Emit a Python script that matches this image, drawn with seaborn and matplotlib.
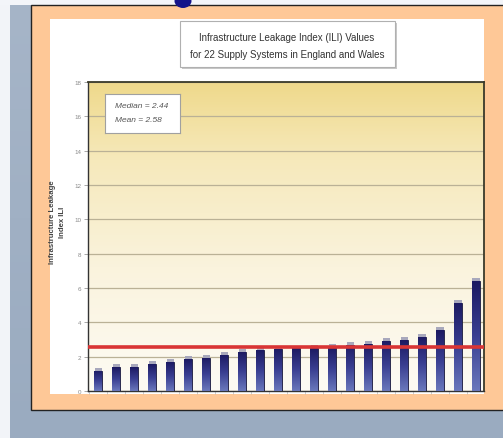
import numpy as np
import pandas as pd
import matplotlib
matplotlib.use("Agg")
import matplotlib.pyplot as plt
from matplotlib.patches import Rectangle, Ellipse
from matplotlib.colors import LinearSegmentedColormap
import seaborn as sns

# ILI values for the 22 supply systems, sorted ascending
systems = [f"S{i}" for i in range(1, 23)]
ili_values = [1.17, 1.38, 1.38, 1.57, 1.67, 1.84, 1.94, 2.10, 2.27, 2.37, 2.45,
              2.48, 2.50, 2.55, 2.68, 2.72, 2.93, 2.95, 3.15, 3.53, 5.13, 6.39]
median_ili = 2.44
mean_ili = 2.58
y_ticks = list(range(0, 19, 2))

title_lines = ["Infrastructure Leakage Index (ILI) Values",
               "for 22 Supply Systems in England and Wales"]
stats_lines = [f"Median = {median_ili:.2f}", f"Mean = {mean_ili:.2f}"]
y_label = "Infrastructure Leakage\nIndex ILI"

df = pd.DataFrame({"system": systems, "ili": ili_values})

sns.set_theme(style="white")
narrow = ["Liberation Sans Narrow", "Liberation Sans", "DejaVu Sans"]
plt.rcParams["font.family"] = ["Liberation Sans", "DejaVu Sans"]

W, H = 503, 439
fig = plt.figure(figsize=(W / 100, H / 100), dpi=100)


def fx(px):
    return px / W


def fy(py):
    return 1 - py / H


# slide background: grey-blue with a pale margin
bg = fig.add_axes([0, 0, 1, 1], zorder=-10)
bg.set_axis_off()
grad = np.linspace(0, 1, 256)[:, None] * np.ones((1, 256))
bg_cmap = LinearSegmentedColormap.from_list("bgc", ["#a6b5c8", "#9aabc0"])
bg.imshow(grad, cmap=bg_cmap, extent=[0, 1, 0, 1], aspect="auto")
bg.add_patch(Rectangle((0, 0), fx(10), 1, color="#f2f4f8", lw=0))
bg.add_patch(Rectangle((0, fy(6)), 1, 1 - fy(6), color="#f3f5f9", lw=0))
# peach frame
bg.add_patch(Rectangle((fx(31), fy(411)), 1.0, fy(6) - fy(411),
                       facecolor="#fec897", edgecolor="#222222", lw=1.0))
# tail of the slide heading poking in at the top edge
bg.add_patch(Ellipse((fx(183), fy(2)), fx(17), fy(0) - fy(14),
                     facecolor="#14148a", edgecolor="none", zorder=3))
# white panel
bg.add_patch(Rectangle((fx(50), fy(395)), fx(434), fy(20) - fy(395),
                       facecolor="white", edgecolor="none"))
bg.set_xlim(0, 1)
bg.set_ylim(0, 1)

# chart axes
ax = fig.add_axes([fx(88), fy(392), fx(484 - 88), fy(83) - fy(392)])
ax.set_facecolor("none")

# yellow-to-cream gradient behind the plot
pg = np.linspace(0, 1, 256)[:, None] * np.ones((1, 8))
plot_cmap = LinearSegmentedColormap.from_list(
    "pc", [(0, "#fdfbf4"), (0.4, "#faf3dd"), (0.75, "#f6e9bb"), (1, "#efd98b")])
ax.imshow(pg, cmap=plot_cmap, extent=[-0.575, 21.46, 0, 18], aspect="auto",
          origin="lower", zorder=0)

sns.barplot(data=df, x="system", y="ili", color="#2a2a7a", width=0.43,
            ax=ax, zorder=3, edgecolor="#1a1a40", linewidth=0.6)

bar_cmap = LinearSegmentedColormap.from_list("bar", ["#6a78bc", "#3a3f92", "#1c1a62"])
bgrad = np.linspace(0, 1, 128)[:, None] * np.ones((1, 4))
for patch in ax.patches:
    x0 = patch.get_x()
    w = patch.get_width()
    h = patch.get_height()
    im = ax.imshow(bgrad, cmap=bar_cmap, extent=[x0, x0 + w, 0, h],
                   aspect="auto", origin="lower", zorder=3.5)
    im.set_clip_path(patch)
    # lighter top face of each column
    ax.add_patch(Rectangle((x0 + 0.03, h), w - 0.02, 0.17, facecolor="#a8a8bc",
                           edgecolor="none", zorder=3.6))

ax.axhline(mean_ili, color="#d93535", lw=2.6, zorder=5)

ax.set_xlim(-0.575, 21.46)
ax.set_ylim(0, 18)
ax.set_yticks(y_ticks)
ax.set_yticklabels([str(t) for t in y_ticks], fontsize=4.5, color="#8a8a8a")
ax.set_xticks(np.arange(-0.5, 21.5, 1))
ax.set_xticklabels([])
ax.tick_params(axis="y", length=3, width=0.6, color="#999999", pad=2, left=True)
ax.tick_params(axis="x", length=2, width=0.5, color="#bbbbbb", bottom=True)
ax.yaxis.grid(True, color="#bab196", lw=0.9, zorder=1)
ax.set_axisbelow(True)
for side in ["left", "bottom"]:
    ax.spines[side].set_color("#333333")
    ax.spines[side].set_linewidth(1.0)
for side in ["top", "right"]:
    ax.spines[side].set_color("#3a3a2a")
    ax.spines[side].set_linewidth(1.3)
    ax.spines[side].set_visible(True)
ax.set_xlabel("")
ax.set_ylabel("")

fig.text(fx(57), fy(222), y_label, rotation=90, ha="center", va="center",
         fontsize=5.6, fontweight="bold", color="#444444", linespacing=1.6,
         family=narrow)

# title box with a soft shadow
bg.add_patch(Rectangle((fx(182), fy(70)), fx(215), fy(22) - fy(68),
                       facecolor="#c8c8c8", edgecolor="none", zorder=1))
bg.add_patch(Rectangle((fx(180), fy(68)), fx(215), fy(22) - fy(68),
                       facecolor="white", edgecolor="#b0b0b0", lw=0.8, zorder=2))
fig.text(fx(287), fy(38), title_lines[0], ha="center", va="center",
         fontsize=7.0, color="#333333", family=narrow)
fig.text(fx(287), fy(55), title_lines[1], ha="center", va="center",
         fontsize=7.0, color="#333333", family=narrow)

# statistics box inside the plot
sbox = fig.add_axes([fx(105), fy(134), fx(75), fy(95) - fy(134)], zorder=6)
sbox.set_xticks([])
sbox.set_yticks([])
sbox.set_facecolor("white")
for s in sbox.spines.values():
    s.set_color("#a0a0a0")
    s.set_linewidth(0.8)
fig.text(fx(115), fy(106), stats_lines[0], ha="left", va="center", fontsize=6.0,
         style="italic", color="#555555", family=narrow, zorder=7)
fig.text(fx(115), fy(121), stats_lines[1], ha="left", va="center", fontsize=6.0,
         style="italic", color="#555555", family=narrow, zorder=7)

fig.savefig("out.png", dpi=100)
